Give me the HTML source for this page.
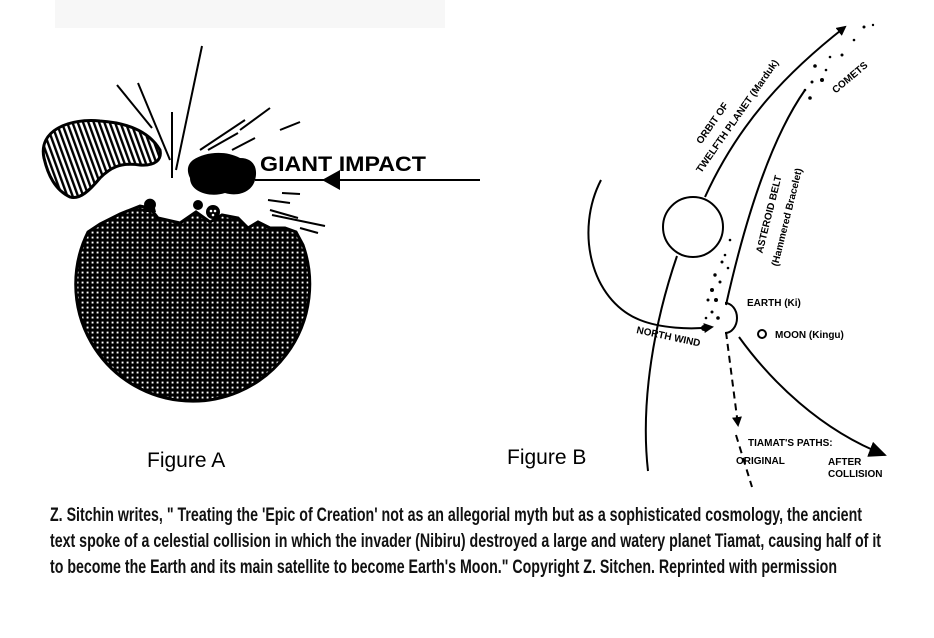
<!DOCTYPE html>
<html><head><meta charset="utf-8"><style>
html,body{margin:0;padding:0;background:#fff;}
svg{display:block;}
</style></head><body>
<svg width="934" height="638" viewBox="0 0 934 638" xmlns="http://www.w3.org/2000/svg">
<defs>
<pattern id="dots" width="5" height="5" patternUnits="userSpaceOnUse">
<rect width="5" height="5" fill="#000"/>
<rect x="1.6" y="1.6" width="1.9" height="1.9" fill="#fff"/>
</pattern>
<pattern id="stripes" width="5" height="5" patternUnits="userSpaceOnUse" patternTransform="rotate(-20)">
<rect width="5" height="5" fill="#fff"/>
<rect width="2.4" height="5" fill="#000"/>
</pattern>
<marker id="tri" markerWidth="10" markerHeight="10" refX="8" refY="5" orient="auto" markerUnits="userSpaceOnUse">
<path d="M0,0 L10,5 L0,10 Z" fill="#000"/>
</marker>
<marker id="big" markerWidth="18" markerHeight="16" refX="16" refY="8" orient="auto" markerUnits="userSpaceOnUse">
<path d="M0,0 L18,8 L0,16 Z" fill="#000"/>
</marker>
</defs>
<rect x="55" y="0" width="390" height="28" fill="#f7f7f7"/>

<!-- Figure A -->
<path d="M88,232 A117,117 0 1 0 303,245 L296,232 L285,228 L270,228 L258,222 L248,228 L238,218 L222,215 L210,222 L196,212 L180,223 L158,218 L150,208 L140,206 L120,214 L100,224 Z" fill="url(#dots)" stroke="#000" stroke-width="3"/>
<path d="M145,208 a6,6 0 1 1 10,0 L156,212 L143,212 Z" fill="#000"/>
<circle cx="198" cy="205" r="5" fill="#000"/>
<circle cx="213" cy="212" r="7" fill="#000"/>
<circle cx="211" cy="211" r="1.3" fill="#fff"/><circle cx="215" cy="211" r="1.3" fill="#fff"/><circle cx="213" cy="215" r="1.3" fill="#fff"/>
<path d="M44,158 C38,130 70,118 100,121 C130,123 150,133 160,150 C162,160 155,166 140,165 C120,162 110,168 100,178 C90,190 80,200 70,197 C55,190 48,175 44,158 Z" fill="url(#stripes)" stroke="#000" stroke-width="3"/>
<path d="M193,160 C205,152 225,150 240,158 C255,158 258,170 255,180 C252,192 238,197 225,193 C210,198 190,192 190,178 C186,170 188,164 193,160 Z" fill="#000"/>
<g stroke="#000" stroke-width="2" fill="none">
<line x1="202" y1="46" x2="176" y2="170"/>
<line x1="117" y1="85" x2="152" y2="128"/>
<line x1="138" y1="83" x2="170" y2="160"/>
<line x1="172" y1="112" x2="172" y2="178"/>
<line x1="200" y1="150" x2="245" y2="120"/>
<line x1="208" y1="150" x2="238" y2="133"/>
<line x1="240" y1="130" x2="270" y2="108"/>
<line x1="280" y1="130" x2="300" y2="122"/>
<line x1="232" y1="150" x2="255" y2="138"/>
<line x1="268" y1="200" x2="290" y2="203"/>
<line x1="270" y1="210" x2="298" y2="218"/>
<line x1="272" y1="215" x2="325" y2="226"/>
<line x1="300" y1="228" x2="318" y2="233"/>
<line x1="282" y1="193" x2="300" y2="194"/>
</g>
<line x1="255" y1="180" x2="480" y2="180" stroke="#000" stroke-width="2"/>
<path d="M322,180 L340,170 L340,190 Z" fill="#000"/>
<text x="260" y="171" font-family="Liberation Sans, sans-serif" font-weight="bold" font-size="21" textLength="166" lengthAdjust="spacingAndGlyphs">GIANT IMPACT</text>
<text x="147" y="467" font-family="Liberation Sans, sans-serif" font-size="21">Figure A</text>
<text x="507" y="464" font-family="Liberation Sans, sans-serif" font-size="21">Figure B</text>

<!-- Figure B -->
<g stroke="#000" stroke-width="2" fill="none">
<circle cx="693" cy="227" r="30"/>
<path d="M705,197 C740,120 790,70 845,27" marker-end="url(#tri)"/>
<path d="M601,180 C575,230 590,300 640,320 C660,328 690,330 712,327" marker-end="url(#tri)"/>
<path d="M677,256 C655,320 640,400 648,471"/>
<path d="M805,90 C770,140 745,220 726,305"/>
<path d="M725,303 A12,15 0 0 1 725,333"/>
<circle cx="762" cy="334" r="4"/>
<path d="M726,332 L738,425" stroke-dasharray="7,5" marker-end="url(#tri)"/>
<path d="M736,435 L752,487" stroke-dasharray="7,5"/>
<path d="M739,337 C770,380 820,430 885,455" marker-end="url(#big)"/>
</g>
<circle cx="704" cy="328" r="3"/>
<g fill="#000">
<circle cx="864" cy="27" r="1.5"/><circle cx="873" cy="25" r="1.2"/><circle cx="854" cy="40" r="1.3"/>
<circle cx="842" cy="55" r="1.5"/><circle cx="830" cy="57" r="1.3"/><circle cx="815" cy="66" r="1.8"/>
<circle cx="822" cy="80" r="2"/><circle cx="826" cy="70" r="1.3"/><circle cx="812" cy="82" r="1.5"/>
<circle cx="810" cy="98" r="1.8"/><circle cx="805" cy="90" r="1.3"/>
<circle cx="722" cy="262" r="1.5"/><circle cx="715" cy="275" r="1.7"/><circle cx="712" cy="290" r="2"/>
<circle cx="720" cy="282" r="1.5"/><circle cx="708" cy="300" r="1.5"/><circle cx="716" cy="300" r="2"/>
<circle cx="712" cy="312" r="1.5"/><circle cx="718" cy="318" r="1.8"/><circle cx="725" cy="255" r="1.3"/>
<circle cx="730" cy="240" r="1.3"/><circle cx="728" cy="268" r="1.3"/><circle cx="706" cy="318" r="1.3"/>
</g>
<g font-family="Liberation Sans, sans-serif" font-size="10" font-weight="bold" fill="#000">
<text transform="translate(715,125) rotate(-55)" text-anchor="middle">ORBIT OF</text>
<text transform="translate(740,118) rotate(-55)" text-anchor="middle">TWELFTH PLANET (Marduk)</text>
<text transform="translate(852,80) rotate(-40)" text-anchor="middle">COMETS</text>
<text transform="translate(772,215) rotate(-76)" text-anchor="middle">ASTEROID BELT</text>
<text transform="translate(790,218) rotate(-76)" text-anchor="middle">(Hammered Bracelet)</text>
<text x="747" y="306">EARTH (Ki)</text>
<text x="775" y="338">MOON (Kingu)</text>
<text transform="translate(636,333) rotate(12)">NORTH WIND</text>
<text x="748" y="446">TIAMAT'S PATHS:</text>
<text x="736" y="464">ORIGINAL</text>
<text x="828" y="465">AFTER</text>
<text x="828" y="477">COLLISION</text>
</g>

<!-- Caption -->
<g font-family="Liberation Sans Narrow, Liberation Sans, sans-serif" font-size="19" font-weight="bold" fill="#111">
<text x="50" y="521" textLength="812" lengthAdjust="spacingAndGlyphs">Z. Sitchin writes, " Treating the 'Epic of Creation' not as an allegorial myth but as a sophisticated cosmology, the ancient</text>
<text x="50" y="547" textLength="831" lengthAdjust="spacingAndGlyphs">text spoke of a celestial collision in which the invader (Nibiru) destroyed a large and watery planet Tiamat, causing half of it</text>
<text x="50" y="573" textLength="787" lengthAdjust="spacingAndGlyphs">to become the Earth and its main satellite to become Earth's Moon."  Copyright Z. Sitchen. Reprinted with permission</text>
</g>
</svg>
</body></html>
